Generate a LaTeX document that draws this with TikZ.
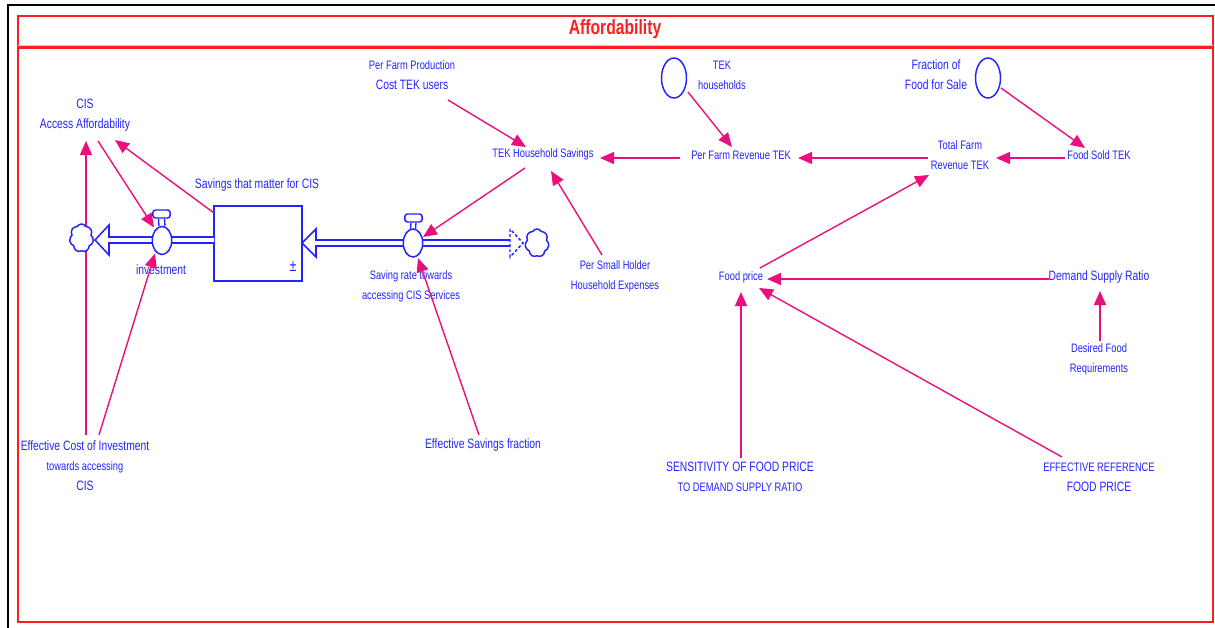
\documentclass[tikz,border=0pt]{standalone}
\usepackage{fontspec}
\newfontfamily\vf{Liberation Sans}[FakeStretch=0.76]
\usetikzlibrary{arrows.meta,shapes.geometric,shapes.symbols,calc}
\definecolor{vblue}{RGB}{35,35,255}
\definecolor{vpink}{RGB}{235,15,125}
\definecolor{vred}{RGB}{255,30,30}
\definecolor{vpale}{RGB}{255,185,185}
\newcommand\bigt{\fontsize{10.2}{15}\selectfont}
\newcommand\smt{\fontsize{9.2}{15}\selectfont}
\begin{document}
\begin{tikzpicture}[x=0.75pt,y=-0.75pt,
  lbl/.style={text=vblue,font=\vf\bigt,align=center,inner sep=0pt},
  slbl/.style={text=vblue,font=\vf\smt,align=center,inner sep=0pt},
  arr/.style={draw=vpink,line width=1.05pt,-{Triangle[length=10.5pt,width=9pt]}},
  pipe/.style={draw=vblue,line width=1.15pt,fill=white,line join=miter},
  valve/.style={ellipse,draw=vblue,line width=1.1pt,fill=white,inner sep=0pt,minimum width=14.6pt,minimum height=21pt},
  vcap/.style={rectangle,rounded corners=2pt,draw=vblue,line width=1.1pt,fill=white,inner sep=0pt,minimum width=13pt,minimum height=6pt},
  aux/.style={ellipse,draw=vblue,line width=1.1pt,fill=white,inner sep=0pt,minimum width=18.75pt,minimum height=30pt},
  cloudy/.style={cloud,cloud puffs=7,cloud puff arc=120,cloud ignores aspect,draw=vblue,line width=1.1pt,fill=white,inner sep=0pt,minimum width=18pt,minimum height=21pt},
  stockbox/.style={rectangle,draw=vblue,line width=1.1pt,fill=white,inner sep=0pt,minimum width=66pt,minimum height=56.25pt}]
\useasboundingbox (0,0) rectangle (1215,628);
% frames
\draw[black,line width=2pt] (8,628) -- (8,5) -- (1216,5);
\draw[vred,line width=1.6pt] (18,16) rectangle (1213,622);
\draw[vpale,line width=1pt] (18,45.5) -- (1213,45.5);
\draw[vred,line width=1.6pt] (18,47.5) -- (1213,47.5);
\node[text=vred,font=\vf\bfseries\fontsize{15.5}{18}\selectfont,inner sep=0pt] (title) at (615,29) {Affordability};

% nodes
\node[lbl] (cis) at (85,115) {CIS\\Access Affordability};
\node[lbl] (savl) at (257,185) {Savings that matter for CIS};
\node[stockbox] (stock) at (258,243.5) {};
\node[lbl,font=\vf\fontsize{12.5}{14}\selectfont] (pm) at (293,267) {±};
\node[lbl] (invl) at (161,270) {investment};
\node[slbl] (srl) at (411,286) {Saving rate towards\\accessing CIS Services};
\node[lbl] (esf) at (483,445) {Effective Savings fraction};
\node[slbl] (psh) at (615,276) {Per Small Holder\\Household Expenses};
\node[slbl] (tekhs) at (543,154) {TEK Household Savings};
\node[lbl] (pfp) at (412,75) {{\smt Per Farm Production}\\Cost TEK users};
\node[aux] (tekc) at (674,78) {};
\node[slbl] (tekl) at (722,75) {TEK\\households};
\node[slbl] (pfr) at (741,155) {Per Farm Revenue TEK};
\node[aux] (frc) at (988,78) {};
\node[lbl] (frl) at (936,75) {Fraction of\\Food for Sale};
\node[slbl] (tfr) at (960,155) {Total Farm\\Revenue TEK};
\node[slbl] (fst) at (1099,155) {Food Sold TEK};
\node[slbl] (fp) at (741,277) {Food price};
\node[lbl] (dsr) at (1099,277) {Demand Supply Ratio};
\node[slbl] (dfr) at (1099,359) {Desired Food\\Requirements};
\node[lbl] (sens) at (740,477) {SENSITIVITY OF FOOD PRICE\\{\smt TO DEMAND SUPPLY RATIO}};
\node[lbl] (erf) at (1099,477) {{\smt EFFECTIVE REFERENCE}\\FOOD PRICE};
\node[lbl] (eci) at (85,466) {Effective Cost of Investment\\{\smt towards accessing}\\CIS};

% flow pipes
\draw[pipe] (214,237) -- (109,237) -- (109,225) -- (95,240) -- (109,255) -- (109,243) -- (214,243);
\draw[pipe] (510,240) -- (316,240) -- (316,229) -- (302,243) -- (316,257) -- (316,246) -- (510,246);
\draw[draw=vblue,line width=1.1pt,dash pattern=on 2.2pt off 1.6pt] (510,229) -- (510,257) -- (523,243) -- cycle;

% connectors
\draw[arr] ($(pfp.center)+(36,25)$) -- ($(tekhs.center)+(-17,-7)$);
\draw[arr] ($(tekhs.center)+(-18,14)$) -- ($(413,243)+(10,-6)$);
\draw[arr] ($(psh.center)+(-13,-21)$) -- ($(tekhs.center)+(8,17)$);
\draw[arr] ($(pfr.center)+(-61,3)$) -- ($(tekhs.center)+(57,4)$);
\draw[arr] ($(tekc.center)+(14,14)$) -- ($(pfr.center)+(-9,-8)$);
\draw[arr] ($(tfr.center)+(-32,3)$) -- ($(pfr.center)+(57,3)$);
\draw[arr] ($(fst.center)+(-34,3)$) -- ($(tfr.center)+(36,3)$);
\draw[arr] ($(frc.center)+(13,10)$) -- ($(fst.center)+(-14,-7)$);
\draw[arr] ($(fp.center)+(19,-9)$) -- ($(tfr.center)+(-31,20)$);
\draw[arr] ($(dsr.center)+(-50,2)$) -- ($(fp.center)+(26,2)$);
\draw[arr] ($(dfr.center)+(1,-18)$) -- ($(dsr.center)+(1,14)$);
\draw[arr] ($(sens.center)+(1,-19)$) -- ($(fp.center)+(0,15)$);
\draw[arr] ($(erf.center)+(-37,-20)$) -- ($(fp.center)+(18,11)$);
\draw[arr] ($(esf.center)+(-4,-10)$) -- ($(413,243)+(5,15)$);
\draw[arr] ($(eci.center)+(1,-31)$) -- ($(cis.center)+(1,26)$);
\draw[arr] ($(eci.center)+(14,-31)$) -- ($(162,240.5)+(-7,13)$);
\draw[arr] ($(cis.center)+(13,26)$) -- ($(162,240.5)+(-8,-13)$);
\draw[arr] ($(stock.center)+(-44,-30.5)$) -- ($(cis.center)+(30,25)$);

% valves and clouds
\node[vcap] (invcap) at (161.5,214) {};
\node[valve] (inv) at (162,240.5) {};
\draw[draw=vblue,line width=1pt] ($(invcap.south)+(-3,0)$) -- ($(inv.north)+(-3,0.5)$);
\draw[draw=vblue,line width=1pt] ($(invcap.south)+(3,0)$) -- ($(inv.north)+(3,0.5)$);
\node[vcap] (srcap) at (413.5,218) {};
\node[valve] (sr) at (413,243) {};
\draw[draw=vblue,line width=1pt] ($(srcap.south)+(-2.5,0)$) -- ($(sr.north)+(-2.5,0.5)$);
\draw[draw=vblue,line width=1pt] ($(srcap.south)+(2.5,0)$) -- ($(sr.north)+(2.5,0.5)$);
\node[cloudy] (cl) at (81.5,238) {};
\node[cloudy] (cr) at (537,243) {};
\end{tikzpicture}
\end{document}
